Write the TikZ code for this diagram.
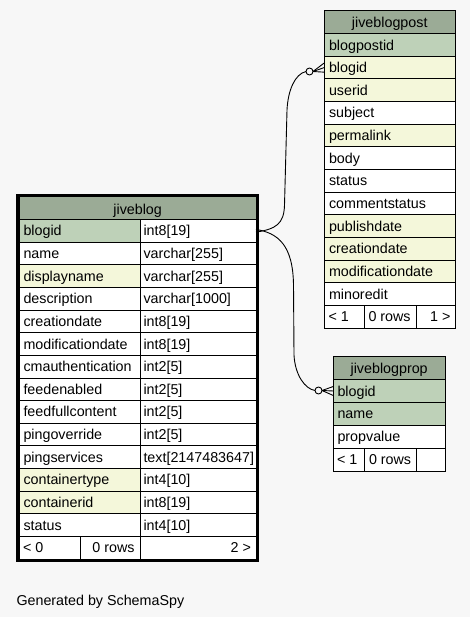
\documentclass[tikz,border=0pt]{standalone}
\usepackage{fontspec}
\setmainfont{Liberation Sans}
\definecolor{bgc}{HTML}{F7F7F7}
\definecolor{hd}{HTML}{9BAB96}
\definecolor{pk}{HTML}{BED1B8}
\definecolor{ix}{HTML}{F4F7DA}
\definecolor{wh}{HTML}{FFFFFF}
\tikzset{
  cellbox/.style={draw=black, line width=1pt, inner sep=0pt, outer sep=0pt, rectangle},
  txt/.style={inner sep=0pt, outer sep=0pt, font=\fontsize{14.3}{16}\selectfont, text=black},
  edge/.style={draw=black, line width=0.9pt},
  crow/.style={draw=black, line width=0.9pt},
}
\begin{document}
\begin{tikzpicture}[x=1pt,y=-1pt]
\path[fill=bgc] (0,0) rectangle (470,617);
\useasboundingbox (0,0) rectangle (470,617);

% ---------- jiveblogpost ----------
\node[cellbox, fill=hd, minimum width=131.5pt, minimum height=22.66pt] (bp0) at (389.75,22.33) {};
\node[txt, anchor=base] at (389.75,27.4) {jiveblogpost};
\foreach \i/\t/\c in {1/blogpostid/pk,2/blogid/ix,3/userid/ix,4/subject/wh,5/permalink/ix,6/body/wh,7/status/wh,8/commentstatus/wh,9/publishdate/ix,10/creationdate/ix,11/modificationdate/ix,12/minoredit/wh}{
  \node[cellbox, fill=\c, minimum width=131.5pt, minimum height=22.66pt] (bp\i) at (389.75,{11+\i*22.66+11.33}) {};
  \node[txt, anchor=base west] at (329,{11+(\i+1)*22.66-6.3}) {\t};
}
\node[cellbox, fill=wh, minimum width=40.3pt, minimum height=22.66pt] (bpf1) at (344.15,{11+13*22.66+11.33}) {};
\node[cellbox, fill=wh, minimum width=52.4pt, minimum height=22.66pt] (bpf2) at (390.5,{11+13*22.66+11.33}) {};
\node[cellbox, fill=wh, minimum width=38.8pt, minimum height=22.66pt] (bpf3) at (436.1,{11+13*22.66+11.33}) {};
\node[txt, anchor=base west] at (328.5,{11+14*22.66-6.3}) {< 1};
\node[txt, anchor=base west] at (368.5,{11+14*22.66-6.3}) {0 rows};
\node[txt, anchor=base east] at (450.5,{11+14*22.66-6.3}) {1 >};

% ---------- jiveblog ----------
\node[cellbox, fill=hd, minimum width=236.7pt, minimum height=22.625pt] (jb0) at (137.65,208.31) {};
\node[txt, anchor=base] at (137.65,214.2) {jiveblog};
\foreach \i/\t/\ty/\c in {1/blogid/int8[19]/pk,2/name/varchar[255]/wh,3/displayname/varchar[255]/ix,4/description/varchar[1000]/wh,5/creationdate/int8[19]/wh,6/modificationdate/int8[19]/wh,7/cmauthentication/int2[5]/wh,8/feedenabled/int2[5]/wh,9/feedfullcontent/int2[5]/wh,10/pingoverride/int2[5]/wh,11/pingservices/text[2147483647]/wh,12/containertype/int4[10]/ix,13/containerid/int8[19]/ix,14/status/int4[10]/wh}{
  \node[cellbox, fill=\c, minimum width=120.7pt, minimum height=22.625pt] (jbn\i) at (79.65,{197+\i*22.625+11.31}) {};
  \node[cellbox, fill=wh, minimum width=116pt, minimum height=22.625pt] (jbt\i) at (198,{197+\i*22.625+11.31}) {};
  \node[txt, anchor=base west] at (23.5,{197+(\i+1)*22.625-6.3}) {\t};
  \node[txt, anchor=base west] at (143.5,{197+(\i+1)*22.625-6.3}) {\ty};
}
\node[cellbox, fill=wh, minimum width=61.4pt, minimum height=22.625pt] (jbf1) at (50,{197+15*22.625+11.31}) {};
\node[cellbox, fill=wh, minimum width=59.3pt, minimum height=22.625pt] (jbf2) at (110.35,{197+15*22.625+11.31}) {};
\node[cellbox, fill=wh, minimum width=116pt, minimum height=22.625pt] (jbf3) at (198,{197+15*22.625+11.31}) {};
\node[txt, anchor=base west] at (23,{197+16*22.625-6.3}) {< 0};
\node[txt, anchor=base east] at (134.5,{197+16*22.625-6.3}) {0 rows};
\node[txt, anchor=base east] at (251,{197+16*22.625-6.3}) {2 >};
\draw[line width=3.2pt] (17.6,195.5) rectangle (257.6,560.6);

% ---------- jiveblogprop ----------
\node[cellbox, fill=hd, minimum width=111.7pt, minimum height=22.86pt] (bpr0) at (389.15,368.13) {};
\node[txt, anchor=base] at (389.15,373.6) {jiveblogprop};
\foreach \i/\t/\c in {1/blogid/pk,2/name/pk,3/propvalue/wh}{
  \node[cellbox, fill=\c, minimum width=111.7pt, minimum height=22.86pt] (bpr\i) at (389.15,{356.7+\i*22.86+11.43}) {};
  \node[txt, anchor=base west] at (337.5,{356.7+(\i+1)*22.86-6.4}) {\t};
}
\node[cellbox, fill=wh, minimum width=31pt, minimum height=22.86pt] (bprf1) at (348.8,{356.7+4*22.86+11.43}) {};
\node[cellbox, fill=wh, minimum width=52.4pt, minimum height=22.86pt] (bprf2) at (390.5,{356.7+4*22.86+11.43}) {};
\node[cellbox, fill=wh, minimum width=28.3pt, minimum height=22.86pt] (bprf3) at (430.85,{356.7+4*22.86+11.43}) {};
\node[txt, anchor=base west] at (337,{356.7+5*22.86-6.4}) {< 1};
\node[txt, anchor=base west] at (369,{356.7+5*22.86-6.4}) {0 rows};

% ---------- relationships ----------
\coordinate (c1) at (309.5,71.5);
\coordinate (c2) at (318.5,390.5);
\draw[edge] ([yshift=-1.2pt]jbt1.east) .. controls (276,229) and (284,224) .. (284.5,205)
  -- (287,110) .. controls (288,90) and (295,74) .. ([xshift=-3.5pt]c1);
\draw[edge] ([yshift=1.5pt]jbt1.east) .. controls (278,233) and (293,245) .. (293.5,285)
  -- (294,355) .. controls (295,375) and (305,389) .. ([xshift=-3.5pt]c2);
\draw[crow] (c1) circle (3.5pt);
\draw[crow] (c2) circle (3.5pt);
\draw[crow] ([xshift=3.5pt]c1) -- ([yshift=-4.5pt]bp2.west);
\draw[crow] ([xshift=3.5pt]c1) -- (bp2.west);
\draw[crow] ([xshift=3.5pt]c1) -- ([yshift=4.5pt]bp2.west);
\draw[crow] ([xshift=3.5pt]c2) -- ([yshift=-4.5pt]bpr1.west);
\draw[crow] ([xshift=3.5pt]c2) -- (bpr1.west);
\draw[crow] ([xshift=3.5pt]c2) -- ([yshift=4.5pt]bpr1.west);

\node[txt, anchor=base west] (gen) at (16.5,605) {Generated by SchemaSpy};
\end{tikzpicture}
\end{document}
